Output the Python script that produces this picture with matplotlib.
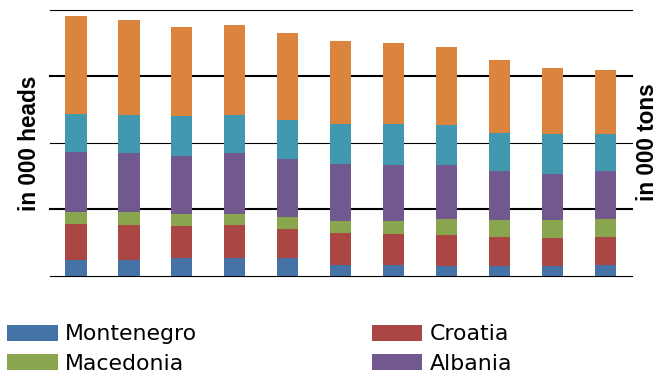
import numpy as np
import matplotlib
matplotlib.use("Agg")
import matplotlib.pyplot as plt

# years on the x axis (no tick labels are shown)
years = list(range(2000, 2011))

# stacked series, bottom to top (in 000 heads)
montenegro = [23.6, 23.6, 26.6, 26.6, 26.6, 15.5, 15.5, 14.5, 14.5, 14.5, 15.5]
croatia = [53.6, 52.1, 47.6, 49.1, 43.1, 48.2, 46.7, 46.2, 43.1, 41.6, 42.1]
macedonia = [18.0, 19.5, 18.0, 16.5, 18.0, 18.0, 19.5, 24.0, 25.6, 27.1, 27.1]
albania = [90.3, 88.8, 87.2, 91.8, 87.2, 85.7, 84.2, 81.2, 73.7, 69.2, 72.2]
bosnia = [57.1, 57.1, 60.2, 57.1, 58.7, 60.2, 61.7, 60.2, 57.1, 60.1, 55.6]
serbia = [147.4, 142.9, 133.8, 135.3, 130.8, 124.8, 121.8, 117.3, 109.8, 99.3, 96.3]

series = [
    ("Montenegro", montenegro, "#4572A7"),
    ("Croatia", croatia, "#AA4643"),
    ("Macedonia", macedonia, "#89A54E"),
    ("Albania", albania, "#71588F"),
    ("Bosnia and Herzegovina", bosnia, "#4198AF"),
    ("Serbia", serbia, "#DB843D"),
]
legend_names = ["Montenegro", "Macedonia", "Croatia", "Albania"]

grid_thin = [0, 200, 400]
grid_thick = [100, 300]

fig = plt.figure(figsize=(6.58, 3.76), dpi=100)
ax = fig.add_axes([49.5 / 658, 1 - 275.5 / 376, (632 - 49.5) / 658, 266 / 376])

x = np.arange(len(years))
bottom = np.zeros(len(years))
handles = {}
for name, vals, color in series:
    vals = np.array(vals)
    bars = ax.bar(x, vals, width=0.4, bottom=bottom, color=color, zorder=3)
    handles[name] = bars
    bottom += vals

for g in grid_thin:
    ax.axhline(g, color="black", lw=0.8, zorder=1, clip_on=False)
for g in grid_thick:
    ax.axhline(g, color="black", lw=1.5, zorder=1, clip_on=False)

ax.set_xlim(-0.5, len(years) - 0.5)
ax.set_ylim(0, 400)
ax.set_xticks([])
ax.set_yticks([])
for s in ax.spines.values():
    s.set_visible(False)

# axis titles on both sides
fig.text(30 / 658, 1 - 143 / 376, "in 000 heads", rotation=90, ha="center", va="center",
         fontsize=16.3, fontweight="bold", family="Liberation Sans")
fig.text(647 / 658, 1 - 142 / 376, "in 000 tons", rotation=90, ha="center", va="center",
         fontsize=16.3, fontweight="bold", family="Liberation Sans")

fig.legend([handles[n] for n in legend_names], legend_names,
           loc="center left", bbox_to_anchor=(7 / 658, 1 - 349 / 376),
           ncol=2, frameon=False, fontsize=15.8, borderpad=0, borderaxespad=0,
           handlelength=2.32, handleheight=0.73, handletextpad=0.32,
           columnspacing=7.95, labelspacing=0.43)

fig.savefig("out.png", dpi=100)
